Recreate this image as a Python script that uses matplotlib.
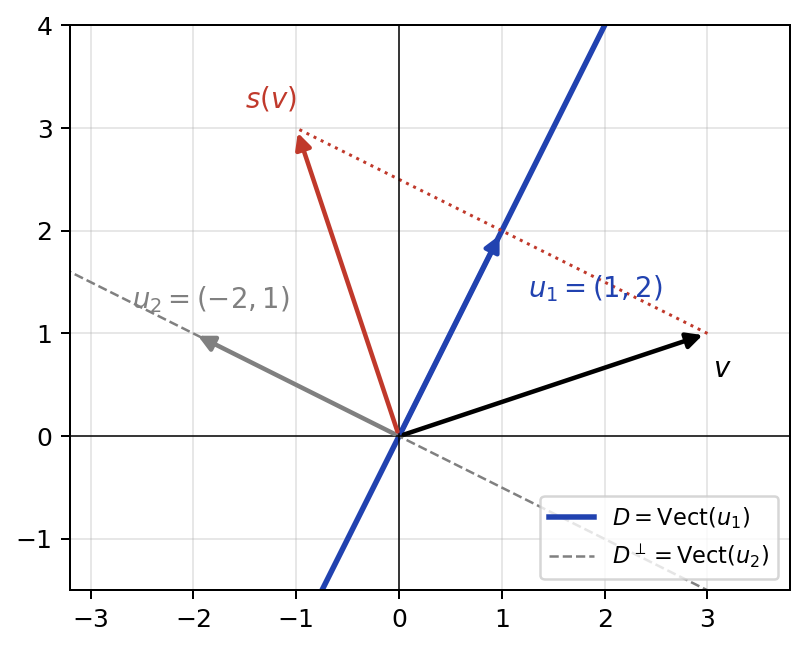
import numpy as np
import matplotlib.pyplot as plt

# vectors
u1 = np.array([1, 2])
u2 = np.array([-2, 1])
v = np.array([3, 1])
sv = np.array([-1, 3])

blue = '#2142b0'
red = '#c0392b'

fig = plt.figure(figsize=(805 / 180, 648 / 180), dpi=180)
ax = fig.add_axes([0.087, 0.089, 0.894, 0.872])

t = np.linspace(-5, 5, 2)
ax.plot(t * u1[0], t * u1[1], color=blue, lw=2.2, label=r'$D=\mathrm{Vect}(u_1)$')
ax.plot(t * u2[0], t * u2[1], color='gray', lw=1.0, ls='--', label=r'$D^\perp=\mathrm{Vect}(u_2)$')
ax.plot([v[0], sv[0]], [v[1], sv[1]], color=red, lw=1.2, ls=':')

ax.axhline(0, color='black', lw=0.6)
ax.axvline(0, color='black', lw=0.6)

for vec, c in [(u1, blue), (u2, 'gray'), (v, 'black'), (sv, red)]:
    ax.annotate('', xy=vec, xytext=(0, 0),
                arrowprops=dict(arrowstyle='-|>', lw=1.8, color=c, mutation_scale=13),
                zorder=3)

ax.text(-1.25, 3.2, r'$s(v)$', color=red, fontsize=11, ha='center')
ax.text(1.25, 1.35, r'$u_1=(1,2)$', color=blue, fontsize=11)
ax.text(-2.6, 1.25, r'$u_2=(-2,1)$', color='gray', fontsize=11)
ax.text(3.05, 0.58, r'$v$', color='black', fontsize=11)

ax.set_xlim(-3.2, 3.8)
ax.set_ylim(-1.5, 4)
ax.set_xticks(range(-3, 4))
ax.set_yticks(range(-1, 5))
ax.grid(alpha=0.3)
ax.legend(loc='lower right', fontsize=9)

plt.savefig('out.png')
